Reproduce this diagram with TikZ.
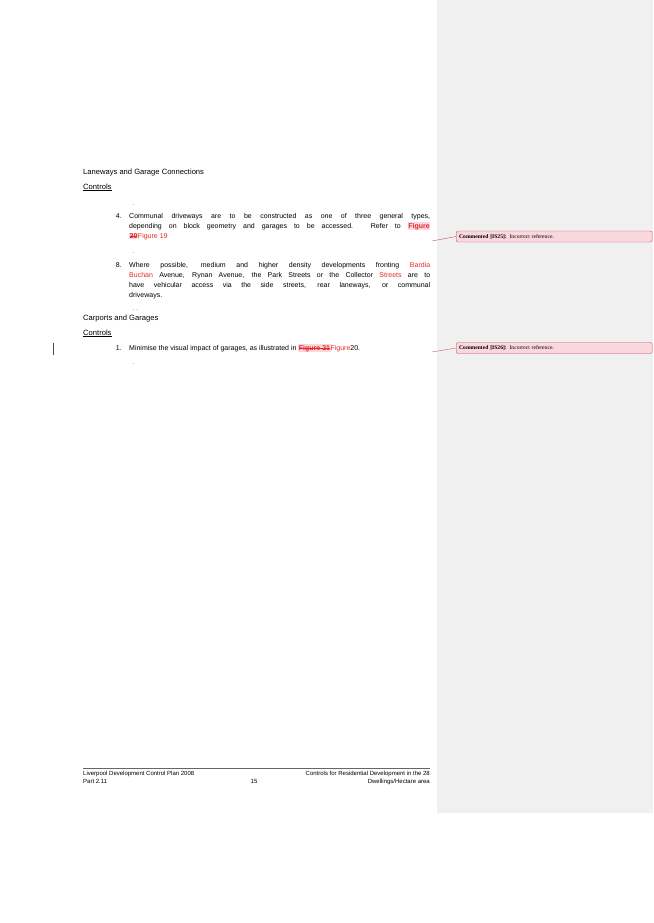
\documentclass[tikz,border=0pt]{standalone}
\usepackage{fontspec}
\setmainfont{Liberation Sans}
\newfontfamily\cmtfont{Liberation Serif}
\usetikzlibrary{positioning}
\definecolor{panelgray}{RGB}{240,240,240}
\definecolor{refred}{RGB}{230,40,40}
\definecolor{cmtfill}{RGB}{250,215,222}
\definecolor{cmtline}{RGB}{200,80,100}
\newcommand{\jline}[1]{\makebox[301pt][s]{#1}}
\newcommand{\rf}[1]{\textcolor{refred}{#1}}
\newcommand{\rfhl}[1]{{\setlength{\fboxsep}{0.5pt}\colorbox{cmtfill}{\textcolor{refred}{#1}}}}
\newcommand{\strk}[1]{\setbox0\hbox{#1}\rlap{\raisebox{0.3em}{\rule{\wd0}{0.4pt}}}\box0}

\begin{document}
\begin{tikzpicture}[x=1pt, y=-1pt,
        body/.style = {anchor = base west, inner sep = 0pt, font = \fontsize{7}{8}\selectfont},
        num/.style = {anchor = base east, inner sep = 0pt, font = \fontsize{7}{8}\selectfont},
        head/.style = {anchor = base west, inner sep = 0pt, font = \fontsize{7.6}{9}\selectfont},
        dotmark/.style = {anchor = base west, inner sep = 0pt, font = \fontsize{5}{6}\selectfont},
        cmt/.style = {draw = cmtline, fill = cmtfill, rounded corners = 2pt, minimum width = 196pt, minimum height = 11pt, anchor = west, inner xsep = 3pt, inner ysep = 0pt, align = left, text width = 190pt, font = \cmtfont\fontsize{5.6}{6}\selectfont}]
        \useasboundingbox (0, 0) rectangle (653, 923);
        \fill [panelgray] (437, 0) rectangle (653, 813);

        \node [head] (h1) at (83, 174) {Laneways and Garage Connections};
        \node [head] (c1) at (83, 189) {\underline{Controls}};
        \node [dotmark] (d1) at (133, 205) {.};

        \node [num] (n4) at (122, 218) {4.};
        \node [body] (p4a) at (129, 218) {\jline{Communal driveways are to be constructed as one of three general types,}};
        \node [body] (p4b) at (129, 228) {\jline{depending on block geometry and garages to be accessed. Refer to \rfhl{\textbf{Figure}}}};
        \node [body] (p4c) at (129, 238) {\rfhl{\textbf{\strk{20}}}\rf{Figure 19}};
        \node [dotmark] (d2) at (133, 253) {.};

        \node [num] (n8) at (122, 267) {8.};
        \node [body] (p8a) at (129, 267) {\jline{Where possible, medium and higher density developments fronting \rf{Bardia}}};
        \node [body] (p8b) at (129, 277) {\jline{\rf{Buchan} Avenue, Rynan Avenue, the Park Streets or the Collector \rf{Streets} are to}};
        \node [body] (p8c) at (129, 287) {\jline{have vehicular access via the side streets, rear laneways, or communal}};
        \node [body] (p8d) at (129, 297) {driveways.};
        \node [dotmark] (d3) at (133, 310) {. .};

        \node [head] (h2) at (83, 320) {Carports and Garages};
        \node [head] (c2) at (83, 335) {\underline{Controls}};
        \node [num] (n1) at (122, 350) {1.};
        \node [body] (p1) at (129, 350) {Minimise the visual impact of garages, as illustrated in \rfhl{\textbf{\strk{Figure 21}}}\rf{ Figure}20.};
        \node [dotmark] (d4) at (133, 364) {.};
        \draw [black!70] (53, 343) -- (53, 355);

        \node [cmt] (k25) at (456, 236.5) {\textbf{Commented [IS25]:} Incorrect reference.};
        \node [cmt] (k26) at (456, 348) {\textbf{Commented [IS26]:} Incorrect reference.};
        \coordinate (e25) at (432, 241);
        \coordinate (e26) at (432, 352);
        \draw [cmtline] (e25) -- (k25.west);
        \draw [cmtline] (e26) -- (k26.west);

        \draw [black!60, line width = 0.4pt] (83, 768) -- (430, 768);
        \node [body] (f1) at (83, 775) {\fontsize{6}{7}\selectfont Liverpool Development Control Plan 2008};
        \node [body] (f2) at (83, 783) {\fontsize{6}{7}\selectfont Part 2.11};
        \node [anchor = base, inner sep = 0pt, font = \fontsize{6}{7}\selectfont] (pg) at (254, 783) {15};
        \node [anchor = base east, inner sep = 0pt, font = \fontsize{6}{7}\selectfont] (f3) at (430, 775) {Controls for Residential Development in the 28};
        \node [anchor = base east, inner sep = 0pt, font = \fontsize{6}{7}\selectfont] (f4) at (430, 783) {Dwellings/Hectare area};
    \end{tikzpicture}
\end{document}
